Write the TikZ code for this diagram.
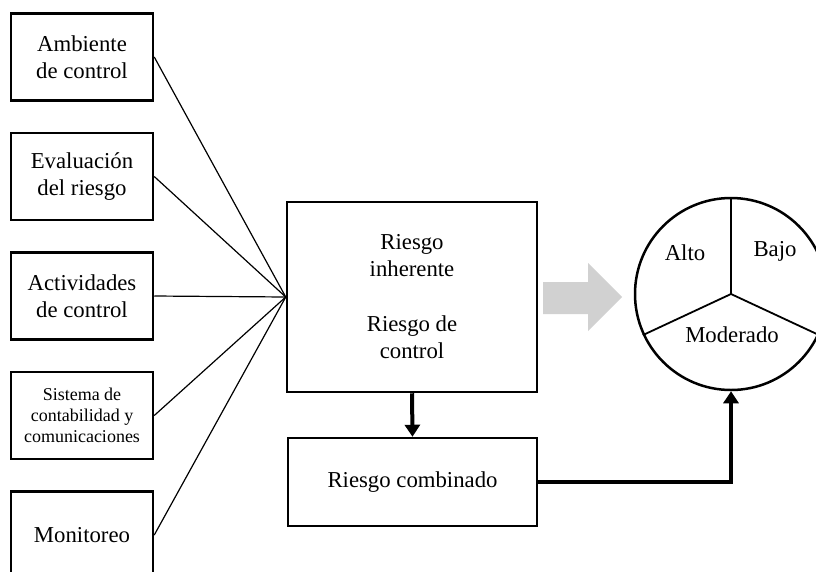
\documentclass[tikz,border=0pt]{standalone}
\usepackage{fontspec}
\setmainfont{Liberation Serif}
\usetikzlibrary{positioning, arrows.meta}

\begin{document}
\begin{tikzpicture}[
    x=1pt, y=-1pt,
    font=\fontsize{22.75}{27}\selectfont,
    caja/.style={
        draw=black, fill=white, line width=2.5pt,
        minimum width=142pt, minimum height=87pt,
        inner sep=0pt, align=center
    },
    linea/.style={line width=1.2pt, color=black},
    flecha/.style={-{Triangle[length=12pt, width=15pt]}, line width=4pt, color=black},
    rueda/.style={circle, draw=black, line width=2.5pt, minimum size=192pt, inner sep=0pt}
]

\clip (0,0) rectangle (816,571);

%%%%%%%%%%%%%%%%%%%%%
% Componentes (left column)
%%%%%%%%%%%%%%%%%%%%%
\node[caja] (ambiente) at (82,57) {Ambiente\\de control};
\node[caja] (evaluacion) at (82,176.5) {Evaluación\\del riesgo};
\node[caja] (actividades) at (82,296) {Actividades\\de control};
\node[caja, font=\fontsize{18}{21}\selectfont] (sistema) at (82,415.5)
     {Sistema de\\contabilidad y\\comunicaciones};
\node[caja] (monitoreo) at (82,535) {Monitoreo};

%%%%%%%%%%%%%%%%%%%%%
% Riesgos (center)
%%%%%%%%%%%%%%%%%%%%%
\node[caja, minimum width=250pt, minimum height=190pt] (riesgo) at (412,297)
     {Riesgo\\inherente\\[28pt]Riesgo de\\control};
\node[caja, minimum width=249pt, minimum height=88pt] (combinado) at (412.5,482)
     {Riesgo combinado};

\foreach \comp in {ambiente, evaluacion, actividades, sistema, monitoreo}
    \draw[linea] (\comp.east) -- (riesgo.west);

\draw[flecha] (riesgo.south) -- (combinado.north);

% Gray block arrow
\fill[black!18] (543,282) -- (588,282) -- (588,263) -- (622,297)
    -- (588,331) -- (588,314) -- (543,314) -- cycle;

%%%%%%%%%%%%%%%%%%%%%
% Nivel de riesgo (circle)
%%%%%%%%%%%%%%%%%%%%%
\node[rueda] (circulo) at (731,294) {};
\draw[line width=1.8pt] (circulo.center) -- (circulo.90);
\draw[line width=1.8pt] (circulo.center) -- (circulo.205);
\draw[line width=1.8pt] (circulo.center) -- (circulo.335);

\node[anchor=base] (alto) at (685,260) {Alto};
\node[anchor=base] (bajo) at (775,256) {Bajo};
\node[anchor=base] (moderado) at (732,342) {Moderado};

\draw[flecha] (combinado.east) -| (circulo.south);

\end{tikzpicture}
\end{document}
